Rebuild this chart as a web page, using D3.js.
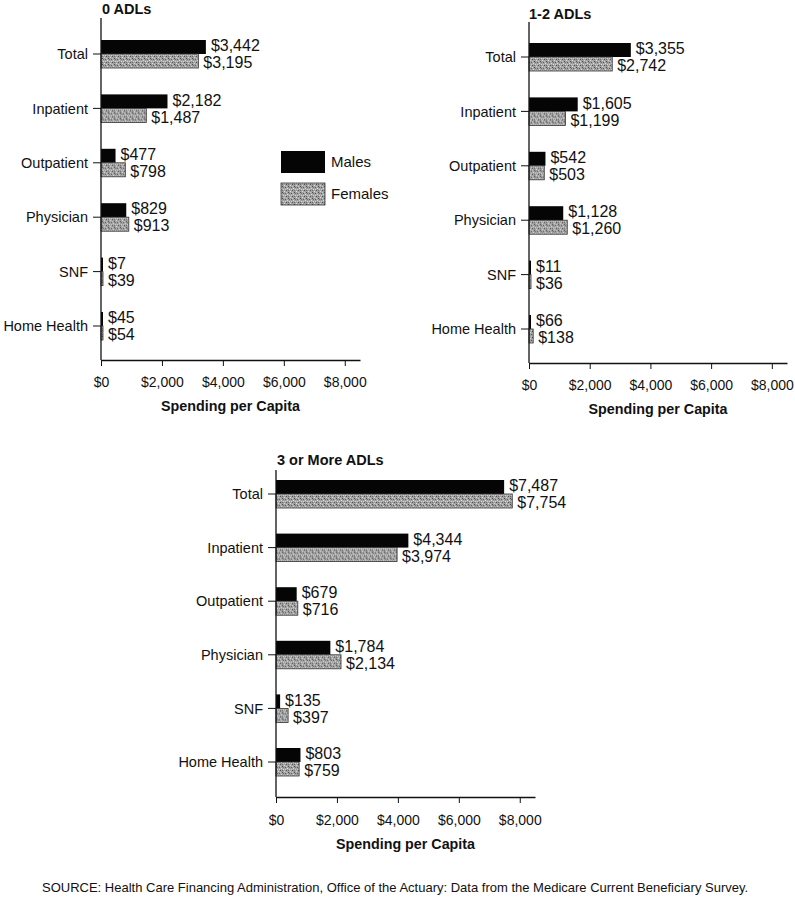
<!DOCTYPE html>
<html><head><meta charset="utf-8">
<script src="https://cdn.jsdelivr.net/npm/d3@7"></script>
<style>
body{margin:0;background:#fff;}
text{font-family:"Liberation Sans",Arial,Helvetica,sans-serif;fill:#111;}
</style></head>
<body>
<script>
const categories = ["Total","Inpatient","Outpatient","Physician","SNF","Home Health"];
const series = ["Males","Females"];
const males0 = [3442,2182,477,829,7,45];
const females0 = [3195,1487,798,913,39,54];
const males12 = [3355,1605,542,1128,11,66];
const females12 = [2742,1199,503,1260,36,138];
const males3 = [7487,4344,679,1784,135,803];
const females3 = [7754,3974,716,2134,397,759];
const tickValues = [0,2000,4000,6000,8000];
const panelTitles = ["0 ADLs","1-2 ADLs","3 or More ADLs"];
const axisTitle = "Spending per Capita";
const sourceText = "SOURCE: Health Care Financing Administration, Office of the Actuary: Data from the Medicare Current Beneficiary Survey.";

const W=795,H=903;
const svg=d3.select("body").append("svg").attr("width",W).attr("height",H);
const defs=svg.append("defs");
const pat=defs.append("pattern").attr("id","stip").attr("patternUnits","userSpaceOnUse").attr("width",6).attr("height",6);
pat.append("rect").attr("width",6).attr("height",6).attr("fill","#a2a2a2");
[[0,0,"#4a4a4a"],[3,1,"#5e5e5e"],[1,3,"#d4d4d4"],[4,4,"#505050"],[2,5,"#dadada"],[5,2,"#dcdcdc"],[1,1,"#707070"],[4,0,"#c8c8c8"],[0,4,"#6a6a6a"],[3,3,"#cfcfcf"]].forEach(p=>{
  pat.append("rect").attr("x",p[0]).attr("y",p[1]).attr("width",1).attr("height",1).attr("fill",p[2]);
});

const fmt=v=>"$"+d3.format(",")(v);

const panels=[
 {title:panelTitles[0],m:males0,f:females0,x0:101,x1:360,yTop:18,c0:54,c1:326,axisY:360,titleX:102,titleY:14,tickY:390,atY:411},
 {title:panelTitles[1],m:males12,f:females12,x0:529,x1:787,yTop:22,c0:57,c1:329,axisY:363,titleX:529,titleY:19,tickY:393,atY:414},
 {title:panelTitles[2],m:males3,f:females3,x0:276,x1:535,yTop:470,c0:494,c1:762,axisY:797,titleX:277,titleY:465,tickY:828,atY:849}
];

panels.forEach(p=>{
  const g=svg.append("g");
  const x=d3.scaleLinear().domain([0,8500]).range([p.x0,p.x1]);
  const step=(p.c1-p.c0)/(categories.length-1);
  const y=d3.scaleBand().domain(categories).range([p.c0-step/2,p.c1+step/2]).paddingInner(1-28/step).paddingOuter((1-28/step)/2);
  const ys=d3.scaleBand().domain(series).range([0,y.bandwidth()]);
  const data=categories.map((c,i)=>({c,vals:[{s:"Males",v:p.m[i]},{s:"Females",v:p.f[i]}]}));

  const grp=g.selectAll(".cat").data(data).enter().append("g").attr("transform",d=>`translate(0,${y(d.c)})`);
  grp.selectAll("rect").data(d=>d.vals).enter().append("rect")
    .attr("x",x(0)).attr("y",d=>ys(d.s)).attr("height",ys.bandwidth())
    .attr("width",d=>Math.max(2,x(d.v)-x(0)))
    .attr("fill",d=>d.s==="Males"?"#050505":"url(#stip)")
    .attr("stroke",d=>d.s==="Males"?"none":"#333").attr("stroke-width",0.8);
  grp.selectAll("text").data(d=>d.vals).enter().append("text")
    .attr("x",d=>Math.max(x(d.v),x(0)+2)+5)
    .attr("y",d=>ys(d.s)+ys.bandwidth()/2+(d.s==="Males"?-1.5:1.5)).attr("dy","0.36em")
    .attr("font-size",16).text(d=>fmt(d.v));

  const ya=g.append("g").attr("transform",`translate(${p.x0},0)`);
  ya.append("line").attr("x1",0).attr("x2",0).attr("y1",p.yTop).attr("y2",p.axisY).attr("stroke","#111").attr("stroke-width",1.3);
  ya.selectAll(".t").data(categories).enter().append("line")
    .attr("x1",-8).attr("x2",0).attr("y1",d=>y(d)+y.bandwidth()/2).attr("y2",d=>y(d)+y.bandwidth()/2).attr("stroke","#111");
  ya.selectAll(".l").data(categories).enter().append("text")
    .attr("x",-13).attr("y",d=>y(d)+y.bandwidth()/2).attr("dy","0.36em").attr("text-anchor","end")
    .attr("font-size",14.5).text(d=>d);

  const xa=g.append("g").attr("transform",`translate(0,${p.axisY})`)
    .call(d3.axisBottom(x).tickValues(tickValues).tickSizeInner(6).tickSizeOuter(0).tickFormat(fmt));
  xa.select(".domain").attr("stroke","#111").attr("stroke-width",1.3);
  xa.selectAll(".tick line").attr("stroke","#111");
  xa.selectAll(".tick text").attr("font-size",14).attr("font-family","'Liberation Sans',Arial,sans-serif").attr("y",p.tickY-p.axisY-13).attr("fill","#111");

  g.append("text").attr("x",(p.x0+p.x1)/2).attr("y",p.atY).attr("text-anchor","middle")
    .attr("font-size",14.3).attr("font-weight","bold").text(axisTitle);
  g.append("text").attr("x",p.titleX).attr("y",p.titleY).attr("font-size",14.5).attr("font-weight","bold").text(p.title);
});

const lg=svg.append("g");
series.forEach((s,i)=>{
  lg.append("rect").attr("x",281).attr("y",151+i*32).attr("width",44).attr("height",22)
    .attr("fill",s==="Males"?"#050505":"url(#stip)").attr("stroke",s==="Males"?"none":"#333").attr("stroke-width",0.8);
  lg.append("text").attr("x",331).attr("y",162+i*32).attr("dy","0.36em").attr("font-size",15).text(s);
});

svg.append("text").attr("x",42).attr("y",892).attr("font-size",13).text(sourceText);
</script>
</body></html>
